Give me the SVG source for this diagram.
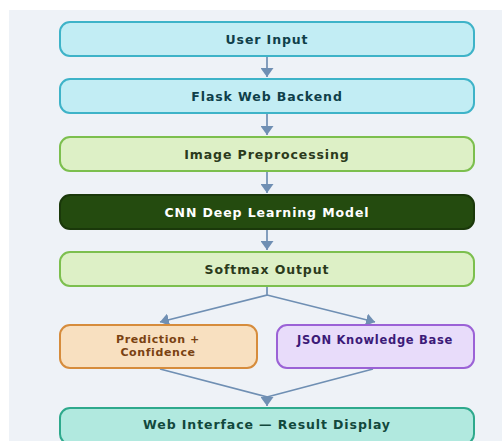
<svg xmlns="http://www.w3.org/2000/svg" width="502" height="441" viewBox="0 0 502 441">
<defs>
<style>
.t{font-family:"DejaVu Sans",Verdana,sans-serif;font-weight:bold;font-size:12.5px;letter-spacing:0.9px;text-anchor:middle;dominant-baseline:central}
.s{font-size:11px;letter-spacing:0.6px}
.box{stroke-width:2}
.cy{fill:#c2edf4;stroke:#3eb3c8}
.gr{fill:#ddf0c6;stroke:#7cbf4e}
.dk{fill:#244b0f;stroke:#1a380a}
.or{fill:#f8e0c0;stroke:#d68c3c}
.pu{fill:#e8dcfa;stroke:#9b62d6}
.tq{fill:#b1e9df;stroke:#2ea98c}
.conn{fill:none;stroke:#6f8fb3;stroke-width:1.7}
</style>
<marker id="ah" viewBox="0 0 9 13" refX="9" refY="6.5" markerWidth="9" markerHeight="13" markerUnits="userSpaceOnUse" orient="auto">
<path d="M0,0 L9,6.5 L0,13 z" fill="#6f8fb3"/>
</marker>
</defs>
<rect x="0" y="0" width="502" height="441" fill="#ffffff"/>
<rect x="9" y="10" width="493" height="431" fill="#eef2f7"/>
<g id="connectors">
<line class="conn" x1="267" y1="57" x2="267" y2="77" marker-end="url(#ah)"/>
<line class="conn" x1="267" y1="114" x2="267" y2="135" marker-end="url(#ah)"/>
<line class="conn" x1="267" y1="172" x2="267" y2="193" marker-end="url(#ah)"/>
<line class="conn" x1="267" y1="230" x2="267" y2="250" marker-end="url(#ah)"/>
<polyline class="conn" points="267,287 267,295 160,322" marker-end="url(#ah)"/>
<polyline class="conn" points="267,295 375,322" marker-end="url(#ah)"/>
<polyline class="conn" points="160,369 267,397 267,406" marker-end="url(#ah)"/>
<line class="conn" x1="373" y1="369" x2="267" y2="397"/>
</g>
<g id="user-input">
<rect class="box cy" x="60" y="22" width="414" height="34" rx="10"/>
<text class="t" x="267" y="39" fill="#0f3f4a">User Input</text>
</g>
<g id="flask-backend">
<rect class="box cy" x="60" y="79" width="414" height="34" rx="10"/>
<text class="t" x="267" y="96" fill="#0f3f4a">Flask Web Backend</text>
</g>
<g id="image-preprocessing">
<rect class="box gr" x="60" y="137" width="414" height="34" rx="10"/>
<text class="t" x="267" y="154" fill="#2b3a1c">Image Preprocessing</text>
</g>
<g id="cnn-model">
<rect class="box dk" x="60" y="195" width="414" height="34" rx="10"/>
<text class="t" x="267" y="212" fill="#ffffff">CNN Deep Learning Model</text>
</g>
<g id="softmax-output">
<rect class="box gr" x="60" y="252" width="414" height="34" rx="10"/>
<text class="t" x="267" y="269" fill="#2b3a1c">Softmax Output</text>
</g>
<g id="prediction-confidence">
<rect class="box or" x="60" y="325" width="197" height="43" rx="10"/>
<text class="t s" x="158" y="339.5" fill="#7a4212">Prediction +</text>
<text class="t s" x="158" y="352.5" fill="#7a4212">Confidence</text>
</g>
<g id="json-knowledge-base">
<rect class="box pu" x="277" y="325" width="197" height="43" rx="10"/>
<text class="t s" x="375" y="340" fill="#3c1a78" style="font-size:11.5px;letter-spacing:0.7px">JSON Knowledge Base</text>
</g>
<g id="web-interface">
<rect class="box tq" x="60" y="408" width="414" height="36" rx="10"/>
<text class="t" x="267" y="424" fill="#12483c">Web Interface — Result Display</text>
</g>
</svg>
